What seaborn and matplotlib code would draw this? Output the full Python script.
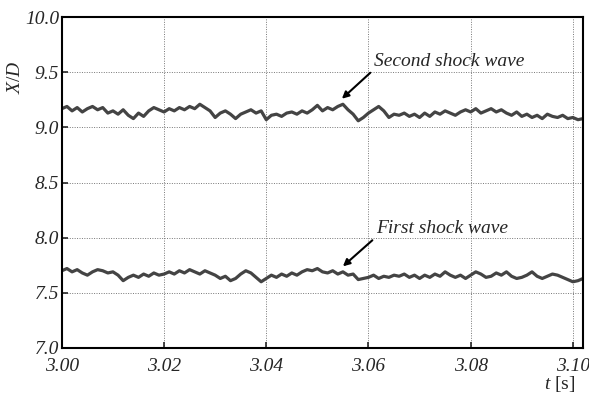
import matplotlib
matplotlib.use("Agg")
import matplotlib.pyplot as plt
import seaborn as sns
import numpy as np
import pandas as pd

# shock positions, one value per 1 ms from t = 3.000 s
second_wave = [
    9.17, 9.19, 9.15, 9.18, 9.14, 9.17, 9.19, 9.16, 9.18, 9.13,
    9.15, 9.12, 9.16, 9.11, 9.08, 9.13, 9.10, 9.15, 9.18, 9.16,
    9.14, 9.17, 9.15, 9.18, 9.16, 9.19, 9.17, 9.21, 9.18, 9.15,
    9.09, 9.13, 9.15, 9.12, 9.08, 9.12, 9.14, 9.16, 9.13, 9.15,
    9.07, 9.11, 9.12, 9.10, 9.13, 9.14, 9.12, 9.15, 9.13, 9.16,
    9.20, 9.15, 9.18, 9.16, 9.19, 9.21, 9.16, 9.12, 9.06, 9.09,
    9.13, 9.16, 9.19, 9.15, 9.09, 9.12, 9.11, 9.13, 9.10, 9.12,
    9.09, 9.13, 9.10, 9.14, 9.12, 9.15, 9.13, 9.11, 9.14, 9.16,
    9.14, 9.17, 9.13, 9.15, 9.17, 9.14, 9.16, 9.13, 9.11, 9.14,
    9.10, 9.12, 9.09, 9.11, 9.08, 9.12, 9.10, 9.09, 9.11, 9.08,
    9.09, 9.07, 9.08,
]
first_wave = [
    7.70, 7.72, 7.69, 7.71, 7.68, 7.66, 7.69, 7.71, 7.70, 7.68,
    7.69, 7.66, 7.61, 7.64, 7.66, 7.64, 7.67, 7.65, 7.68, 7.66,
    7.67, 7.69, 7.67, 7.70, 7.68, 7.71, 7.69, 7.67, 7.70, 7.68,
    7.66, 7.63, 7.65, 7.61, 7.63, 7.67, 7.70, 7.68, 7.64, 7.60,
    7.63, 7.66, 7.64, 7.67, 7.65, 7.68, 7.66, 7.69, 7.71, 7.70,
    7.72, 7.69, 7.68, 7.70, 7.67, 7.69, 7.66, 7.67, 7.62, 7.63,
    7.64, 7.66, 7.63, 7.65, 7.64, 7.66, 7.65, 7.67, 7.64, 7.66,
    7.63, 7.66, 7.64, 7.67, 7.65, 7.69, 7.66, 7.64, 7.66, 7.63,
    7.66, 7.69, 7.67, 7.64, 7.65, 7.68, 7.66, 7.69, 7.65, 7.63,
    7.64, 7.66, 7.69, 7.65, 7.63, 7.65, 7.67, 7.66, 7.64, 7.62,
    7.60, 7.61, 7.63,
]
t = np.round(3.000 + 0.001 * np.arange(len(first_wave)), 3)

xticks = [3.00, 3.02, 3.04, 3.06, 3.08, 3.10]
yticks = [7.0, 7.5, 8.0, 8.5, 9.0, 9.5, 10.0]

df = pd.DataFrame({
    "t": np.concatenate([t, t]),
    "xd": second_wave + first_wave,
    "wave": ["second"] * len(t) + ["first"] * len(t),
})

sns.set_style("ticks")
plt.rcParams["font.family"] = ["Liberation Serif", "DejaVu Serif"]
plt.rcParams["mathtext.fontset"] = "custom"
plt.rcParams["mathtext.it"] = "Liberation Serif:italic"
plt.rcParams["mathtext.rm"] = "Liberation Serif"

fig = plt.figure(figsize=(5.89, 3.99), dpi=100)
ax = fig.add_axes([0.105, 0.128, 0.885, 0.829])

sns.lineplot(data=df, x="t", y="xd", units="wave", estimator=None,
             color="#444444", lw=2.3, ax=ax)

ax.set_xlim(3.0, 3.102)
ax.set_ylim(7.0, 10.0)
ax.set_xticks(xticks)
ax.set_yticks(yticks)
ax.set_xticklabels([f"{v:.2f}" for v in xticks], fontsize=14, style="italic")
ax.set_yticklabels([f"{v:.1f}" for v in yticks], fontsize=14, style="italic")
ax.tick_params(direction="in", length=4, width=1.2)
ax.tick_params(axis="x", pad=7)
ax.tick_params(axis="y", pad=2)
ax.grid(True, ls=(0, (1, 1.5)), color="#777777", lw=0.7)
for s in ax.spines.values():
    s.set_linewidth(1.5)
    s.set_color("black")

ax.set_xlabel("")
ax.set_ylabel("$X/D$", fontsize=14)
ax.yaxis.set_label_coords(-0.073, 0.82)
ax.text(0.955, -0.11, "$t$ [s]", transform=ax.transAxes, fontsize=14,
        ha="center", va="center")

ax.annotate("Second shock wave", xy=(3.0548, 9.26), xytext=(3.0610, 9.60),
            fontsize=14, style="italic", ha="left", va="center",
            arrowprops=dict(arrowstyle="-|>", color="black", lw=1.5,
                            mutation_scale=10, shrinkA=0, shrinkB=0,
                            relpos=(0.0, 0.0)))
ax.annotate("First shock wave", xy=(3.0550, 7.74), xytext=(3.0614, 8.08),
            fontsize=14, style="italic", ha="left", va="center",
            arrowprops=dict(arrowstyle="-|>", color="black", lw=1.5,
                            mutation_scale=10, shrinkA=0, shrinkB=0,
                            relpos=(0.0, 0.0)))

fig.savefig("out.png", dpi=100)
